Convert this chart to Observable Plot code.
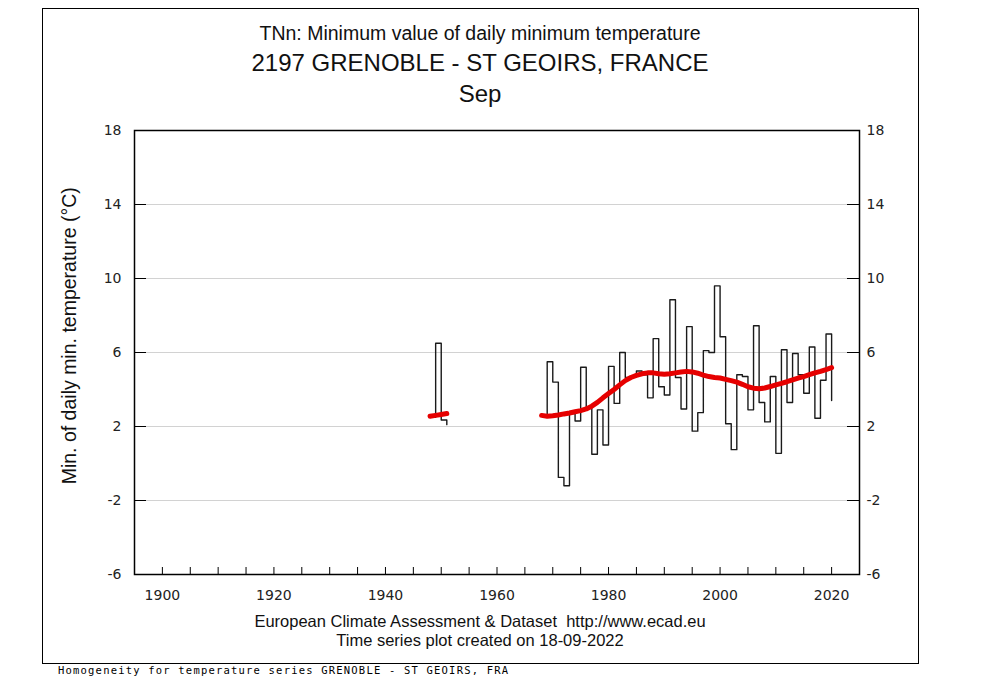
<!DOCTYPE html>
<html><head><meta charset="utf-8">
<script src="https://cdn.jsdelivr.net/npm/d3@7"></script>
<script src="https://cdn.jsdelivr.net/npm/@observablehq/plot@0.6"></script>
<style>
body{margin:0;background:#fff;}
#wrap{position:relative;width:1000px;height:677px;overflow:hidden;font-family:"Liberation Sans",Arial,sans-serif;color:#111;background:#fff;}
#wrap svg{position:absolute;left:0;top:0;}
.t{position:absolute;left:0;width:960px;text-align:center;white-space:pre;line-height:1;}
#border{position:absolute;left:42px;top:8px;width:877px;height:656px;border:1.5px solid #000;box-sizing:border-box;}
#ylab{position:absolute;left:-130px;width:400px;text-align:center;white-space:nowrap;line-height:1;transform:rotate(-90deg);transform-origin:50% 50%;}
#homog{position:absolute;left:58px;top:665px;font-family:"DejaVu Sans Mono",monospace;font-size:10.5px;letter-spacing:1.2px;line-height:1;white-space:pre;color:#000;}
</style></head><body><div id="wrap">
<div id="border"></div>
</div>
<script>
// ---- data ----
const yearsA = [1948, 1949, 1950, 1951];
const tnA    = [2.5, 6.5, 2.35, 2.1];
const trendA = [2.55, 2.6, 2.65, 2.7];

const yearsB = [1968,1969,1970,1971,1972,1973,1974,1975,1976,1977,1978,1979,
  1980,1981,1982,1983,1984,1985,1986,1987,1988,1989,1990,1991,1992,1993,1994,
  1995,1996,1997,1998,1999,2000,2001,2002,2003,2004,2005,2006,2007,2008,2009,
  2010,2011,2012,2013,2014,2015,2016,2017,2018,2019,2020];
const tnB = [2.6,5.5,4.4,-0.75,-1.2,2.7,2.3,5.2,3.0,0.5,2.9,1.0,
  5.25,3.25,6.0,4.65,4.7,5.0,4.8,3.55,6.75,4.15,3.7,8.85,4.65,2.95,7.4,
  1.75,2.75,6.1,6.0,9.6,6.85,2.15,0.75,4.8,4.7,2.9,7.45,3.3,2.25,4.7,
  0.55,6.15,3.3,5.95,4.8,3.8,6.3,2.45,4.5,7.0,3.4];
const trendB = [2.6,2.55,2.58,2.62,2.68,2.73,2.8,2.86,2.95,3.1,3.3,3.55,
  3.78,4.0,4.25,4.48,4.65,4.76,4.85,4.9,4.9,4.85,4.82,4.85,4.9,4.95,4.98,
  4.95,4.88,4.78,4.7,4.65,4.62,4.55,4.48,4.4,4.28,4.15,4.07,4.04,4.08,4.16,
  4.25,4.33,4.42,4.52,4.62,4.7,4.8,4.9,4.98,5.08,5.18];

const xMinorTicks = [1900,1905,1910,1915,1920,1925,1930,1935,1940,1945,1950,1955,1960,
  1965,1970,1975,1980,1985,1990,1995,2000,2005,2010,2015,2020];
const xLabelTicks = [1900, 1920, 1940, 1960, 1980, 2000, 2020];
const yTicks = [-6, -2, 2, 6, 10, 14, 18];
const gridLevels = [-2, 2, 6, 10, 14];

const title1 = "TNn: Minimum value of daily minimum temperature";
const title2 = "2197 GRENOBLE - ST GEOIRS, FRANCE";
const title3 = "Sep";
const yTitle = "Min. of daily min. temperature (°C)";
const foot1 = "European Climate Assessment & Dataset  http://www.ecad.eu";
const foot2 = "Time series plot created on 18-09-2022";
const homog = "Homogeneity for temperature series GRENOBLE - ST GEOIRS, FRA";

// ---- tables ----
const tnRows = [
  ...yearsA.map((y, i) => ({year: y, tn: tnA[i], seg: "A"})),
  ...yearsB.map((y, i) => ({year: y, tn: tnB[i], seg: "B"}))
];
const trendRows = [
  ...yearsA.map((y, i) => ({year: y, trend: trendA[i], seg: "A"})),
  ...yearsB.map((y, i) => ({year: y, trend: trendB[i], seg: "B"}))
];

const W = 1000, H = 677, ML = 134, MR = 141, MT = 130, MB = 103;
const PW = W - ML - MR, PH = H - MT - MB;

const chart = Plot.plot({
  width: W, height: H,
  marginLeft: ML, marginRight: MR, marginTop: MT, marginBottom: MB,
  style: {fontFamily: "DejaVu Sans, sans-serif", fontSize: "14px", background: "transparent", color: "#222"},
  x: {domain: [1895, 2025]},
  y: {domain: [-6, 18]},
  marks: [
    Plot.ruleY(gridLevels, {y: d => d, stroke: "#d2d2d2", strokeWidth: 1}),
    Plot.tickY(yTicks, {y: d => d, insetRight: PW - 12, stroke: "#000"}),
    Plot.tickY(yTicks, {y: d => d, insetLeft: PW - 12, stroke: "#000"}),
    Plot.tickX(xMinorTicks, {x: d => d, insetTop: PH - 7, stroke: "#000"}),
    Plot.line(tnRows, {x: "year", y: "tn", z: "seg", curve: "step-after", stroke: "#1a1a1a", strokeWidth: 1.4}),
    Plot.line(trendRows, {x: "year", y: "trend", z: "seg", stroke: "#e60000", strokeWidth: 5}),
    Plot.axisX(xLabelTicks, {tickSize: 0, tickPadding: 16, tickFormat: d => String(d), label: null}),
    Plot.axisY(yTicks, {anchor: "left", tickSize: 0, tickPadding: 13, tickFormat: d => String(d), label: null}),
    Plot.axisY(yTicks, {anchor: "right", tickSize: 0, tickPadding: 7, tickFormat: d => String(d), label: null}),
    Plot.frame({stroke: "#000", strokeWidth: 1.5})
  ]
});

const wrap = document.getElementById("wrap");
wrap.insertBefore(chart, wrap.firstChild);

function addText(txt, size, top) {
  const d = document.createElement("div");
  d.className = "t";
  d.style.fontSize = size + "px";
  d.style.top = top + "px";
  d.textContent = txt;
  wrap.appendChild(d);
}
addText(title1, 19.5, 24);
addText(title2, 24, 51);
addText(title3, 24, 82);
addText(foot1, 16.5, 613);
addText(foot2, 16.5, 632);

const yl = document.createElement("div");
yl.id = "ylab";
yl.style.fontSize = "19.5px";
yl.style.top = (336 - 10) + "px";
yl.textContent = yTitle;
wrap.appendChild(yl);

const hm = document.createElement("div");
hm.id = "homog";
hm.textContent = homog;
wrap.appendChild(hm);
</script></body></html>
